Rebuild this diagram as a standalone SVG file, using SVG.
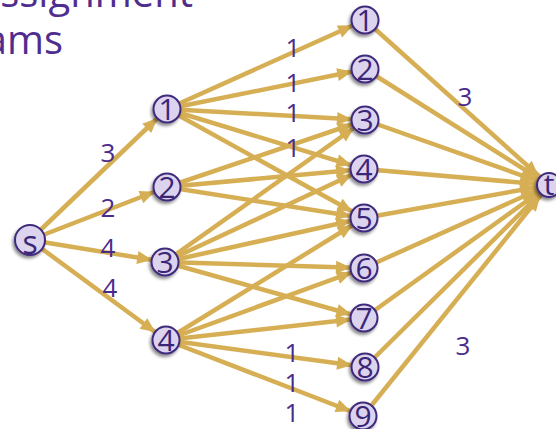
<svg xmlns="http://www.w3.org/2000/svg" width="556" height="429" viewBox="0 0 556 429">
  <style>
    .edge { stroke: #d6af55; stroke-width: 4.5; fill: none; }
    .to-node { marker-end: url(#ah); }
    .to-sink { marker-end: url(#ah-t); }
    .node circle { fill: #dcd4ef; stroke: #3f2a7c; stroke-width: 2; filter: url(#shadow); }
    .node text { font-family: "Open Sans", "Noto Sans", "Liberation Sans", sans-serif; font-size: 30px; fill: #3b2676; text-anchor: middle; }
    .w { font-family: "Open Sans", "Noto Sans", "Liberation Sans", sans-serif; font-size: 26px; fill: #4a2b8c; text-anchor: middle; }
    .title { font-family: "Open Sans", "Noto Sans", "Liberation Sans", sans-serif; font-size: 40px; fill: #4f2d8f; text-anchor: end; }
  </style>
  <defs>
    <marker id="ah" markerUnits="userSpaceOnUse" markerWidth="60" markerHeight="30" viewBox="0 -15 60 30" refX="28" refY="0" orient="auto" overflow="visible">
      <path d="M0,-6.5 L15,0 L0,6.5 Z" fill="#d6af55"/>
    </marker>
    <marker id="ah-t" markerUnits="userSpaceOnUse" markerWidth="60" markerHeight="30" viewBox="0 -15 60 30" refX="29" refY="0" orient="auto" overflow="visible">
      <path d="M0,-6.5 L15,0 L0,6.5 Z" fill="#d6af55"/>
    </marker>
    <filter id="shadow" x="-50%" y="-50%" width="200%" height="200%">
      <feDropShadow dx="-1.5" dy="2.5" stdDeviation="1.5" flood-color="#000" flood-opacity="0.45"/>
    </filter>
  </defs>

  <!-- heading, cut at the left edge -->
  <text class="title" x="193" y="7">ssignment</text>
  <text class="title" x="63" y="54">ams</text>

  <g id="connectors">
    <!-- source to left column -->
    <line class="edge to-node" x1="30" y1="240" x2="167" y2="109"/>
    <line class="edge to-node" x1="30" y1="240" x2="167" y2="187"/>
    <line class="edge to-node" x1="30" y1="240" x2="165" y2="262"/>
    <line class="edge to-node" x1="30" y1="240" x2="166" y2="340"/>
    <!-- left 1 -->
    <line class="edge to-node" x1="167" y1="109" x2="365" y2="20"/>
    <line class="edge to-node" x1="167" y1="109" x2="365" y2="69"/>
    <line class="edge to-node" x1="167" y1="109" x2="365" y2="120"/>
    <line class="edge to-node" x1="167" y1="109" x2="364" y2="169"/>
    <line class="edge to-node" x1="167" y1="109" x2="364" y2="218"/>
    <!-- left 2 -->
    <line class="edge to-node" x1="167" y1="187" x2="365" y2="120"/>
    <line class="edge to-node" x1="167" y1="187" x2="364" y2="169"/>
    <line class="edge to-node" x1="167" y1="187" x2="364" y2="218"/>
    <!-- left 3 -->
    <line class="edge to-node" x1="165" y1="262" x2="365" y2="120"/>
    <line class="edge to-node" x1="165" y1="262" x2="364" y2="169"/>
    <line class="edge to-node" x1="165" y1="262" x2="364" y2="218"/>
    <line class="edge to-node" x1="165" y1="262" x2="364" y2="268"/>
    <line class="edge to-node" x1="165" y1="262" x2="364" y2="318"/>
    <!-- left 4 -->
    <line class="edge to-node" x1="166" y1="340" x2="364" y2="218"/>
    <line class="edge to-node" x1="166" y1="340" x2="364" y2="268"/>
    <line class="edge to-node" x1="166" y1="340" x2="364" y2="318"/>
    <line class="edge to-node" x1="166" y1="340" x2="365" y2="367"/>
    <line class="edge to-node" x1="166" y1="340" x2="363" y2="416"/>
    <!-- right column to sink -->
    <line class="edge to-sink" x1="365" y1="20" x2="549" y2="185"/>
    <line class="edge to-sink" x1="365" y1="69" x2="549" y2="185"/>
    <line class="edge to-sink" x1="365" y1="120" x2="549" y2="185"/>
    <line class="edge to-sink" x1="364" y1="169" x2="549" y2="185"/>
    <line class="edge to-sink" x1="364" y1="218" x2="549" y2="185"/>
    <line class="edge to-sink" x1="364" y1="268" x2="549" y2="185"/>
    <line class="edge to-sink" x1="364" y1="318" x2="549" y2="185"/>
    <line class="edge to-sink" x1="365" y1="367" x2="549" y2="185"/>
    <line class="edge to-sink" x1="363" y1="416" x2="549" y2="185"/>

    <!-- capacities -->
    <text class="w" x="108" y="162">3</text>
    <text class="w" x="108" y="217">2</text>
    <text class="w" x="108" y="257">4</text>
    <text class="w" x="110" y="297">4</text>
    <text class="w" x="293" y="57">1</text>
    <text class="w" x="293" y="92">1</text>
    <text class="w" x="293" y="122">1</text>
    <text class="w" x="293" y="157">1</text>
    <text class="w" x="292" y="362">1</text>
    <text class="w" x="292" y="392">1</text>
    <text class="w" x="292" y="422">1</text>
    <text class="w" x="465" y="106">3</text>
    <text class="w" x="463" y="355">3</text>
  </g>

  <g id="node-s" class="node"><circle cx="30" cy="240" r="15"/><text x="30" y="254" style="font-size:32px">s</text></g>
  <g id="node-l1" class="node"><circle cx="167" cy="109" r="13.5"/><text x="167" y="120">1</text></g>
  <g id="node-l2" class="node"><circle cx="167" cy="187" r="13.5"/><text x="167" y="198">2</text></g>
  <g id="node-l3" class="node"><circle cx="165" cy="262" r="13.5"/><text x="165" y="273">3</text></g>
  <g id="node-l4" class="node"><circle cx="166" cy="340" r="13.5"/><text x="166" y="351">4</text></g>
  <g id="node-r1" class="node"><circle cx="365" cy="20" r="13.5"/><text x="365" y="31">1</text></g>
  <g id="node-r2" class="node"><circle cx="365" cy="69" r="13.5"/><text x="365" y="80">2</text></g>
  <g id="node-r3" class="node"><circle cx="365" cy="120" r="13.5"/><text x="365" y="131">3</text></g>
  <g id="node-r4" class="node"><circle cx="364" cy="169" r="13.5"/><text x="364" y="180">4</text></g>
  <g id="node-r5" class="node"><circle cx="364" cy="218" r="13.5"/><text x="364" y="229">5</text></g>
  <g id="node-r6" class="node"><circle cx="364" cy="268" r="13.5"/><text x="364" y="279">6</text></g>
  <g id="node-r7" class="node"><circle cx="364" cy="318" r="13.5"/><text x="364" y="329">7</text></g>
  <g id="node-r8" class="node"><circle cx="365" cy="367" r="13.5"/><text x="365" y="378">8</text></g>
  <g id="node-r9" class="node"><circle cx="363" cy="416" r="13.5"/><text x="363" y="427">9</text></g>
  <g id="node-t" class="node"><circle cx="549" cy="185" r="12"/><text x="549" y="195">t</text></g>
</svg>
